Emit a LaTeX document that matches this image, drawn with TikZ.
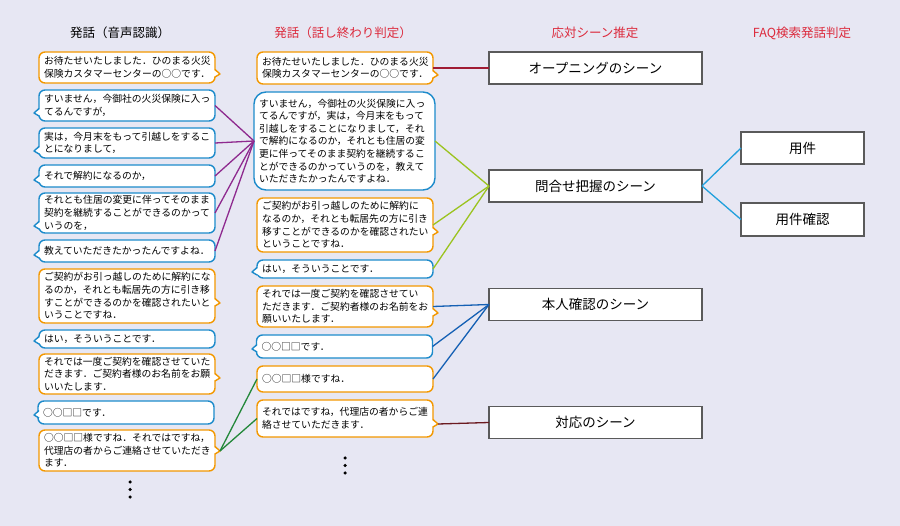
\documentclass[tikz,border=0pt]{standalone}
\usepackage{fontspec}
\newfontfamily\jp{Noto Sans CJK JP}
\usetikzlibrary{calc}
\definecolor{bg}{HTML}{E7E7F3}
\definecolor{orng}{HTML}{F39800}
\definecolor{blu}{HTML}{1D8BCB}
\definecolor{ttlred}{HTML}{DC2A3C}
\definecolor{cpurple}{HTML}{8E2A8F}
\definecolor{cdred}{HTML}{A01C34}
\definecolor{cygreen}{HTML}{9BC31F}
\definecolor{cblue}{HTML}{1560B4}
\definecolor{cgreen}{HTML}{23883A}
\definecolor{cmaroon}{HTML}{6B1A20}
\definecolor{ccyan}{HTML}{20A0DC}
\definecolor{gborder}{HTML}{5A5A5A}
\newcommand\tailR[4]{%
  \fill[white] (#1-2,-#2+4.5) -- (#1+5,-#2) -- (#1-2,-#2-3) -- cycle;
  \draw[#3,line width=1.4pt,line join=round] (#1,-#2+4.5) -- (#1+5,-#2) -- (#1,-#2-3);
  \coordinate (#4) at (#1+5,-#2);
}
\newcommand\tailL[4]{%
  \fill[white] (#1+2,-#2+4.5) -- (#1-5,-#2) -- (#1+2,-#2-3) -- cycle;
  \draw[#3,line width=1.4pt,line join=round] (#1,-#2+4.5) -- (#1-5,-#2) -- (#1,-#2-3);
  \coordinate (#4) at (#1-5,-#2);
}
\begin{document}
\begin{tikzpicture}[x=1pt,y=1pt,
  bub/.style={draw, line width=1.4pt, rounded corners=6pt, fill=white, align=left,
    inner xsep=5pt, inner ysep=1pt, outer sep=0pt, minimum width=176pt, text width=166pt,
    font=\jp\fontsize{9.8}{12.6}\selectfont},
  ob/.style={bub, draw=orng},
  bb/.style={bub, draw=blu},
  scene/.style={draw=gborder, line width=1.3pt, fill=white, outer sep=0pt,
    minimum width=213pt, minimum height=32pt, font=\jp\fontsize{13.5}{16}\selectfont},
  faq/.style={scene, minimum width=123pt},
  ttl/.style={font=\jp\fontsize{12.5}{15}\selectfont},
  conn/.style={line width=1.3pt},
  dot/.style={circle, fill=black, inner sep=0pt, minimum size=3.5pt}
]
\fill[bg] (0,0) rectangle (900,-526);
\useasboundingbox (0,0) rectangle (900,-526);

% titles
\node[ttl] (T1) at (120,-33) {発話（音声認識）};
\node[ttl, text=ttlred] (T2) at (343,-33) {発話（話し終わり判定）};
\node[ttl, text=ttlred] (T3) at (595,-33) {応対シーン推定};
\node[ttl, text=ttlred] (T4) at (802,-33) {FAQ検索発話判定};

% left column
\node[ob, minimum height=31pt] (L1) at (127,-67.5) {お待たせいたしました．ひのまる火災\\保険カスタマーセンターの○○です．};
\tailR{215}{74}{orng}{L1t}
\node[bb, minimum height=31pt] (L2) at (127,-105.5) {すいません，今御社の火災保険に入っ\\てるんですが，};
\tailL{39}{113}{blu}{L2t}
\node[bb, minimum height=30pt] (L3) at (127,-143) {実は，今月末をもって引越しをするこ\\とになりまして，};
\tailL{39}{151}{blu}{L3t}
\node[bb, minimum height=22pt] (L4) at (127,-176) {それで解約になるのか，};
\tailL{39}{180}{blu}{L4t}
\node[bb, minimum height=40pt] (L5) at (127,-213) {それとも住居の変更に伴ってそのまま\\契約を継続することができるのかって\\いうのを，};
\tailL{39}{226}{blu}{L5t}
\node[bb, minimum height=22pt] (L6) at (127,-251) {教えていただきたかったんですよね．};
\tailL{39}{255}{blu}{L6t}
\node[ob, minimum height=54pt] (L7) at (127,-296) {ご契約がお引っ越しのために解約にな\\るのか，それとも転居先の方に引き移\\すことができるのかを確認されたいと\\いうことですね．};
\tailR{215}{303}{orng}{L7t}
\node[bb, minimum height=18pt] (L8) at (127,-339) {はい，そういうことです．};
\tailL{39}{341}{blu}{L8t}
\node[ob, minimum height=40pt] (L9) at (127,-374) {それでは一度ご契約を確認させていた\\だきます．ご契約者様のお名前をお願\\いいたします．};
\tailR{215}{378}{orng}{L9t}
\node[bb, minimum height=23pt, minimum width=174pt] (L10) at (126,-412.5) {○○□□です．};
\tailL{39}{415}{blu}{L10t}
\node[ob, minimum height=41pt] (L11) at (127,-450.5) {○○□□様ですね．それではですね，\\代理店の者からご連絡させていただき\\ます．};
\tailR{215}{451}{orng}{L11t}
\node[dot] (d1) at (130,-482) {};
\node[dot] (d2) at (130,-489.5) {};
\node[dot] (d3) at (130,-497) {};

% middle column
\node[ob, minimum height=32pt] (M1) at (345,-68) {お待たせいたしました．ひのまる火災\\保険カスタマーセンターの○○です．};
\tailR{433}{75}{orng}{M1t}
\node[bb, rounded corners=12pt, minimum height=98pt, minimum width=181pt, text width=171pt] (M2) at (344.5,-141) {すいません，今御社の火災保険に入っ\\てるんですが，実は，今月末をもって\\引越しをすることになりまして，それ\\で解約になるのか，それとも住居の変\\更に伴ってそのまま契約を継続するこ\\とができるのかっていうのを，教えて\\いただきたかったんですよね．};
\node[ob, minimum height=54pt] (M3) at (345,-225) {ご契約がお引っ越しのために解約に\\なるのか，それとも転居先の方に引き\\移すことができるのかを確認されたい\\ということですね．};
\tailR{433}{232}{orng}{M3t}
\node[bb, minimum height=18pt] (M4) at (345,-269) {はい，そういうことです．};
\tailL{257}{272}{blu}{M4t}
\node[ob, minimum height=41pt] (M5) at (345,-306.5) {それでは一度ご契約を確認させてい\\ただきます．ご契約者様のお名前をお\\願いいたします．};
\tailR{433}{313}{orng}{M5t}
\node[bb, minimum height=23pt, minimum width=175pt] (M6) at (344.5,-346.5) {○○□□です．};
\tailL{257}{349}{blu}{M6t}
\node[ob, minimum height=26pt] (M7) at (345,-379) {○○□□様ですね．};
\node[ob, minimum height=37pt] (M8) at (345,-418.5) {それではですね，代理店の者からご連\\絡させていただきます．};
\tailR{433}{424}{orng}{M8t}
\node[dot] (e1) at (345,-458) {};
\node[dot] (e2) at (345,-465.5) {};
\node[dot] (e3) at (345,-473) {};

% scene boxes
\node[scene] (S1) at (595.5,-68) {オープニングのシーン};
\node[scene] (S2) at (595.5,-186) {問合せ把握のシーン};
\node[scene] (S3) at (595.5,-304.5) {本人確認のシーン};
\node[scene] (S4) at (595.5,-422.5) {対応のシーン};

% FAQ boxes
\node[faq] (F1) at (802.5,-148) {用件};
\node[faq, minimum height=33pt] (F2) at (802.5,-219.5) {用件確認};

% connectors
\foreach \n in {L2,L3,L4,L5,L6}{\draw[conn, cpurple] (\n.east) -- (M2.west);}
\draw[conn, cdred] (M1.east) -- (S1.west);
\foreach \n in {M2,M3,M4}{\draw[conn, cygreen] (\n.east) -- (S2.west);}
\foreach \n in {M5,M6,M7}{\draw[conn, cblue] (\n.east) -- (S3.west);}
\draw[conn, cgreen] (L11t) -- (M7.west);
\draw[conn, cgreen] (L11t) -- (M8.west);
\draw[conn, cmaroon] (M8t) -- (S4.west);
\draw[conn, ccyan] (S2.east) -- (F1.west);
\draw[conn, ccyan] (S2.east) -- (F2.west);
\end{tikzpicture}
\end{document}
